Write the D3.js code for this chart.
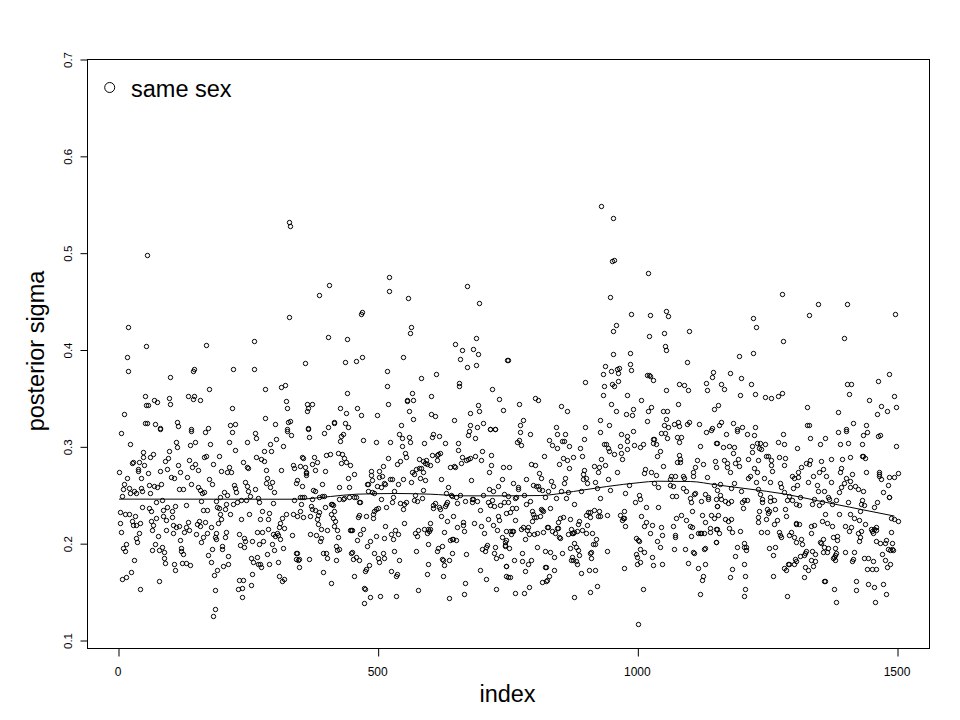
<!DOCTYPE html>
<html>
<head>
<meta charset="utf-8">
<script src="https://cdnjs.cloudflare.com/ajax/libs/d3/7.8.5/d3.min.js"></script>
<style>
html,body{margin:0;padding:0;background:#fff}
svg{display:block}
text{font-family:"Liberation Sans",Arial,sans-serif;fill:#000}
</style>
</head>
<body>
<svg id="chart" width="960" height="720"></svg>
<script>
const xTicks=[0,500,1000,1500];
const yTicks=[0.1,0.2,0.3,0.4,0.5,0.6,0.7];
const xTitle="index";
const yTitle="posterior sigma";
const legendLabel="same sex";
const trendIndex=[1,344,408,459,536,600,665,748,812,876,940,1004,1037,1101,1152,1216,1280,1344,1408,1494];
const trendSigma=[.246,.2459,.2487,.2511,.2518,.2511,.2494,.2494,.2497,.2539,.259,.2631,.2645,.2642,.2607,.2563,.2515,.2446,.2377,.2285];
const peaks=[[329,.532],[332,.528]];
const lowerA=[[6,.314],[23,.302],[48,.294],[48,.289],[62,.289],[68,.292],[28,.284],[27,.283],[41,.284],[50,.281],[39,.277],[39,.275],[2,.273],[58,.272],[18,.267],[45,.267],[12,.261],[10,.256],[21,.257],[8,.249],[23,.252],[31,.254],[35,.252],[45,.257],[46,.254],[60,.26],[62,.252],[70,.259],[75,.258],[83,.261],[73,.243],[85,.245],[81,.275],[95,.277],[91,.285],[96,.288],[98,.295],[112,.304],[114,.299],[139,.301],[148,.304],[177,.302],[141,.316],[168,.315],[81,.318],[116,.281],[120,.273],[102,.268],[108,.267],[133,.268],[141,.261],[118,.256],[125,.256],[137,.286],[143,.279],[148,.282],[154,.276],[166,.289],[170,.29],[183,.282],[195,.29],[214,.304],[225,.296],[248,.304],[220,.315],[264,.314],[266,.309],[304,.308],[293,.302],[281,.295],[295,.295],[318,.3],[325,.316],[333,.312],[266,.289],[275,.287],[281,.285],[241,.284],[248,.279],[250,.278],[198,.275],[210,.274],[214,.279],[218,.274],[285,.276],[314,.276],[337,.281],[339,.278],[175,.266],[181,.261],[154,.258],[158,.255],[162,.252],[166,.253],[204,.253],[210,.25],[197,.248],[223,.26],[225,.257],[227,.253],[245,.263],[248,.259],[250,.254],[254,.249],[264,.256],[285,.262],[287,.267],[297,.263],[293,.258],[300,.253],[343,.262],[270,.247],[272,.242],[298,.241],[339,.245],[160,.244],[189,.244],[237,.245],[247,.245],[229,.243],[222,.24],[208,.24],[131,.239],[110,.238],[95,.237],[87,.234],[104,.233],[104,.227],[87,.228],[93,.224],[73,.226],[60,.236],[64,.233],[46,.237],[4,.232],[14,.23],[21,.23],[33,.228],[27,.223],[29,.219],[35,.219],[43,.221],[64,.223],[68,.219],[66,.214],[4,.221],[6,.212],[41,.21],[35,.205],[37,.201],[16,.199],[10,.195],[14,.192],[77,.207],[71,.199],[66,.193],[79,.193],[85,.196],[89,.191],[89,.185],[91,.18],[31,.183],[25,.17],[16,.165],[8,.163],[79,.161],[43,.153],[108,.179],[110,.172],[120,.203],[122,.195],[122,.192],[125,.189],[123,.18],[131,.18],[139,.177],[106,.219],[112,.217],[118,.218],[93,.214],[106,.211],[127,.212],[131,.217],[135,.222],[137,.214],[152,.22],[158,.218],[156,.223],[168,.222],[179,.217],[150,.209],[172,.21],[164,.206],[160,.201],[187,.206],[189,.211],[189,.204],[181,.194],[173,.188],[179,.181],[200,.197],[200,.194],[212,.187],[212,.179],[202,.176],[191,.172],[185,.167],[187,.152],[187,.132],[183,.125],[164,.234],[171,.234],[191,.237],[195,.236],[206,.235],[216,.23],[197,.23],[198,.225],[193,.221],[208,.212],[206,.206],[252,.23],[237,.225],[277,.233],[291,.231],[273,.225],[289,.225],[316,.226],[312,.221],[324,.23],[337,.23],[345,.228],[310,.217],[320,.216],[289,.215],[268,.212],[277,.212],[299,.209],[307,.211],[308,.208],[302,.207],[312,.204],[335,.208],[233,.209],[243,.205],[245,.202],[258,.202],[272,.199],[279,.202],[297,.199],[300,.193],[318,.195],[235,.198],[243,.196],[287,.189],[256,.185],[268,.186],[260,.181],[270,.179],[274,.179],[275,.175],[291,.179],[308,.181],[343,.19],[343,.184],[258,.168],[310,.166],[316,.161],[320,.163],[233,.162],[241,.162],[231,.153],[239,.154],[256,.157],[239,.144]];
const lowerB=[[366,.318],[397,.314],[368,.31],[433,.313],[429,.311],[427,.306],[472,.307],[497,.304],[524,.304],[541,.313],[547,.309],[560,.31],[562,.304],[547,.3],[589,.303],[606,.313],[604,.31],[618,.311],[629,.303],[654,.303],[654,.296],[676,.316],[674,.312],[687,.309],[716,.318],[726,.318],[408,.292],[400,.291],[424,.293],[431,.292],[435,.288],[429,.283],[439,.284],[447,.281],[377,.289],[383,.284],[373,.282],[354,.289],[356,.288],[350,.28],[360,.279],[379,.276],[399,.275],[362,.274],[362,.272],[362,.27],[454,.271],[443,.267],[393,.261],[354,.259],[425,.258],[445,.258],[344,.265],[487,.275],[487,.27],[502,.275],[508,.269],[502,.268],[489,.265],[479,.261],[481,.261],[499,.259],[506,.258],[514,.261],[512,.262],[524,.266],[527,.266],[539,.261],[549,.266],[564,.263],[520,.288],[510,.28],[537,.282],[543,.285],[552,.293],[554,.289],[579,.287],[587,.285],[593,.286],[591,.283],[595,.282],[600,.281],[566,.274],[570,.271],[574,.277],[579,.278],[583,.278],[587,.274],[581,.267],[591,.265],[614,.291],[614,.286],[604,.291],[616,.292],[620,.293],[622,.266],[639,.279],[647,.28],[649,.279],[662,.289],[660,.283],[670,.286],[674,.287],[677,.288],[687,.29],[699,.286],[701,.295],[718,.291],[718,.281],[714,.273],[741,.279],[679,.265],[635,.258],[731,.259],[739,.266],[714,.256],[722,.254],[587,.255],[531,.254],[481,.254],[489,.253],[493,.252],[631,.252],[641,.25],[643,.249],[658,.25],[651,.248],[572,.25],[585,.247],[529,.248],[702,.25],[743,.251],[376,.255],[379,.254],[373,.246],[350,.248],[354,.248],[358,.248],[387,.248],[393,.249],[397,.249],[425,.246],[435,.247],[433,.246],[445,.248],[454,.248],[458,.248],[506,.246],[681,.246],[683,.246],[668,.244],[691,.244],[681,.242],[720,.245],[712,.243],[716,.239],[724,.238],[735,.239],[743,.243],[352,.24],[372,.238],[373,.235],[350,.233],[370,.228],[356,.227],[379,.234],[387,.232],[385,.229],[383,.225],[385,.22],[399,.237],[410,.24],[412,.24],[414,.239],[410,.23],[416,.233],[414,.226],[418,.223],[416,.218],[391,.215],[402,.214],[422,.214],[464,.243],[466,.243],[527,.242],[516,.237],[543,.241],[550,.24],[554,.242],[549,.235],[570,.245],[575,.244],[606,.239],[606,.236],[610,.241],[618,.237],[620,.235],[629,.238],[631,.24],[633,.242],[652,.241],[697,.234],[731,.228],[622,.228],[645,.228],[633,.223],[664,.222],[664,.219],[666,.213],[652,.217],[685,.221],[699,.218],[712,.225],[722,.219],[733,.224],[729,.214],[704,.21],[739,.206],[746,.201],[745,.198],[746,.197],[501,.236],[497,.235],[493,.233],[491,.23],[491,.226],[477,.228],[464,.229],[462,.227],[514,.218],[550,.221],[533,.214],[525,.209],[539,.209],[529,.204],[512,.205],[497,.207],[472,.215],[466,.209],[460,.203],[447,.214],[450,.214],[449,.214],[424,.206],[370,.209],[381,.208],[391,.205],[389,.202],[420,.197],[425,.194],[422,.193],[485,.202],[479,.197],[574,.192],[597,.199],[624,.197],[614,.192],[616,.195],[639,.203],[643,.204],[645,.204],[651,.203],[601,.221],[589,.215],[597,.215],[601,.215],[599,.213],[595,.211],[577,.214],[572,.21],[576,.207],[627,.212],[531,.192],[493,.19],[510,.19],[512,.185],[500,.185],[502,.181],[450,.191],[449,.19],[458,.186],[452,.184],[464,.183],[395,.19],[400,.19],[402,.185],[420,.183],[368,.184],[349,.184],[347,.183],[344,.19],[348,.175],[395,.17],[410,.159],[454,.166],[483,.177],[477,.173],[475,.171],[525,.171],[537,.168],[535,.166],[541,.183],[643,.19],[670,.189],[624,.184],[625,.183],[637,.183],[597,.179],[627,.177],[595,.168],[625,.166],[668,.159],[697,.172],[709,.163],[747,.176],[747,.166],[701,.194],[706,.192],[710,.198],[708,.196],[726,.196],[724,.19],[727,.185],[737,.187],[474,.154],[475,.153],[485,.144],[504,.145],[535,.145],[474,.138],[577,.152],[666,.148],[637,.143],[727,.153]];
const lowerC=[[774,.315],[793,.313],[772,.307],[768,.304],[776,.301],[829,.307],[845,.313],[860,.313],[897,.308],[929,.315],[968,.313],[981,.311],[991,.316],[981,.306],[854,.305],[858,.305],[835,.301],[845,.298],[868,.3],[820,.29],[889,.298],[893,.29],[935,.302],[939,.302],[943,.298],[945,.295],[955,.292],[966,.3],[968,.293],[970,.287],[931,.287],[981,.297],[993,.301],[1006,.299],[1010,.302],[1030,.308],[1033,.308],[1031,.303],[1035,.302],[1043,.295],[1045,.314],[1053,.314],[1058,.309],[1076,.31],[1085,.31],[1080,.304],[1120,.3],[1133,.315],[1141,.317],[1151,.303],[1037,.29],[1081,.291],[1083,.287],[1083,.284],[1076,.284],[1114,.286],[1126,.282],[1112,.279],[1149,.285],[1151,.279],[864,.286],[856,.288],[876,.289],[849,.282],[868,.278],[795,.282],[803,.281],[752,.279],[897,.276],[895,.271],[916,.28],[926,.279],[937,.281],[924,.273],[960,.274],[1049,.28],[1014,.277],[1012,.272],[1026,.274],[1035,.27],[1108,.273],[1108,.269],[1135,.268],[810,.272],[814,.267],[785,.266],[760,.262],[770,.258],[770,.256],[799,.26],[804,.259],[808,.259],[810,.256],[816,.255],[833,.264],[837,.259],[860,.267],[858,.262],[895,.266],[901,.267],[903,.262],[918,.263],[943,.266],[983,.26],[1033,.262],[1039,.258],[1062,.266],[1064,.269],[1072,.269],[1062,.26],[1068,.259],[1087,.269],[1089,.267],[1087,.257],[1093,.254],[1147,.26],[828,.254],[853,.254],[866,.253],[891,.254],[922,.257],[947,.255],[976,.252],[1003,.25],[1006,.246],[995,.242],[928,.247],[843,.247],[862,.247],[822,.248],[781,.25],[766,.248],[764,.247],[751,.249],[793,.244],[785,.24],[751,.243],[878,.24],[1110,.251],[1112,.252],[1131,.251],[1137,.248],[1137,.246],[1101,.247],[1103,.242],[1122,.244],[1151,.246],[1066,.249],[1074,.249],[1016,.237],[1039,.237],[1153,.238],[831,.236],[814,.235],[816,.234],[797,.233],[818,.233],[799,.23],[801,.227],[804,.227],[812,.228],[797,.223],[766,.236],[758,.236],[754,.232],[748,.231],[764,.224],[851,.226],[856,.227],[847,.222],[845,.216],[870,.225],[887,.223],[885,.22],[901,.229],[905,.232],[908,.232],[908,.227],[916,.234],[926,.233],[924,.228],[928,.228],[941,.229],[966,.229],[974,.233],[972,.226],[975,.226],[970,.224],[1008,.228],[1016,.222],[1028,.219],[1045,.217],[1068,.218],[1074,.226],[1085,.229],[1093,.224],[1105,.233],[1124,.229],[1141,.229],[1147,.226],[1131,.222],[1101,.218],[1105,.217],[1139,.216],[1139,.212],[1151,.215],[1116,.21],[1120,.211],[1122,.211],[1128,.21],[1072,.208],[1047,.208],[1103,.207],[997,.205],[1072,.206],[1024,.211],[1013,.218],[977,.218],[904,.219],[902,.211],[912,.21],[893,.214],[883,.213],[879,.212],[876,.211],[874,.21],[872,.215],[866,.209],[847,.216],[835,.213],[826,.217],[828,.217],[841,.21],[849,.206],[851,.205],[818,.212],[806,.21],[801,.209],[791,.209],[787,.214],[789,.217],[779,.217],[776,.215],[758,.213],[760,.213],[754,.213],[748,.213],[756,.209],[783,.204],[806,.196],[752,.195],[748,.203],[870,.195],[879,.2],[881,.196],[885,.193],[887,.188],[908,.19],[910,.191],[910,.185],[914,.199],[918,.199],[920,.204],[941,.192],[822,.192],[831,.191],[839,.186],[854,.19],[777,.19],[762,.183],[777,.182],[795,.183],[789,.178],[783,.171],[748,.176],[822,.175],[824,.175],[839,.172],[829,.166],[826,.162],[824,.161],[816,.16],[751,.165],[754,.165],[791,.155],[764,.149],[781,.149],[874,.186],[876,.183],[872,.183],[881,.182],[883,.178],[891,.169],[906,.172],[918,.172],[922,.156],[908,.15],[879,.144],[974,.174],[1001,.203],[1003,.202],[1037,.202],[1043,.196],[1005,.194],[1012,.191],[997,.189],[999,.186],[1005,.181],[999,.178],[1028,.186],[1030,.177],[1047,.178],[1070,.194],[1091,.194],[1107,.191],[1110,.19],[1128,.194],[1130,.195],[1097,.18],[1116,.174],[1130,.179],[1126,.166],[1124,.162],[1120,.148],[1151,.201],[1010,.153],[1001,.117]];
const lowerD=[[1170,.313],[1191,.316],[1212,.313],[1224,.312],[1280,.313],[1332,.309],[1362,.309],[1387,.315],[1401,.316],[1435,.312],[1443,.315],[1464,.311],[1468,.312],[1154,.303],[1164,.299],[1176,.3],[1187,.299],[1185,.293],[1220,.3],[1220,.294],[1230,.303],[1237,.303],[1245,.302],[1235,.298],[1239,.297],[1270,.304],[1283,.302],[1308,.298],[1351,.302],[1391,.302],[1405,.303],[1433,.302],[1499,.3],[1247,.29],[1251,.29],[1272,.289],[1285,.288],[1214,.287],[1232,.286],[1258,.286],[1258,.281],[1282,.281],[1166,.286],[1172,.283],[1172,.279],[1193,.287],[1189,.283],[1195,.28],[1178,.273],[1224,.278],[1230,.274],[1260,.275],[1410,.289],[1432,.29],[1434,.29],[1439,.288],[1395,.287],[1372,.287],[1353,.285],[1333,.286],[1330,.282],[1324,.283],[1316,.279],[1357,.277],[1349,.273],[1339,.269],[1310,.273],[1310,.268],[1297,.269],[1301,.267],[1393,.278],[1391,.274],[1414,.271],[1441,.274],[1466,.273],[1466,.271],[1466,.269],[1501,.272],[1495,.268],[1484,.268],[1470,.266],[1482,.26],[1401,.267],[1397,.262],[1409,.264],[1393,.258],[1409,.258],[1420,.259],[1424,.256],[1435,.254],[1474,.253],[1389,.253],[1364,.269],[1372,.263],[1345,.26],[1328,.263],[1308,.26],[1299,.257],[1274,.262],[1276,.258],[1283,.253],[1256,.263],[1243,.267],[1228,.263],[1216,.269],[1214,.267],[1187,.262],[1160,.261],[1180,.257],[1199,.254],[1232,.256],[1237,.251],[1154,.255],[1347,.254],[1360,.254],[1293,.249],[1314,.248],[1368,.248],[1370,.246],[1484,.248],[1485,.248],[1160,.25],[1162,.246],[1168,.244],[1180,.244],[1174,.241],[1205,.245],[1212,.245],[1201,.242],[1203,.236],[1241,.246],[1241,.243],[1255,.248],[1255,.244],[1264,.245],[1289,.245],[1297,.245],[1341,.246],[1383,.245],[1432,.245],[1305,.24],[1312,.239],[1337,.24],[1349,.239],[1355,.242],[1374,.24],[1405,.242],[1430,.24],[1437,.239],[1462,.242],[1455,.237],[1428,.233],[1154,.238],[1285,.235],[1266,.235],[1249,.235],[1253,.233],[1235,.233],[1251,.231],[1287,.228],[1156,.229],[1168,.225],[1174,.223],[1181,.225],[1268,.224],[1233,.227],[1233,.222],[1247,.225],[1264,.22],[1362,.23],[1389,.23],[1410,.23],[1418,.226],[1426,.224],[1355,.223],[1366,.221],[1374,.218],[1399,.218],[1412,.217],[1407,.213],[1439,.22],[1430,.213],[1424,.21],[1428,.206],[1426,.202],[1334,.218],[1341,.219],[1306,.221],[1305,.22],[1312,.22],[1335,.21],[1295,.212],[1293,.208],[1301,.206],[1305,.201],[1316,.204],[1318,.199],[1272,.212],[1274,.208],[1276,.206],[1239,.212],[1249,.212],[1197,.213],[1183,.212],[1176,.216],[1154,.215],[1158,.21],[1152,.201],[1206,.2],[1205,.196],[1210,.196],[1210,.193],[1191,.196],[1253,.195],[1266,.196],[1262,.188],[1189,.187],[1205,.179],[1183,.173],[1179,.165],[1208,.166],[1208,.153],[1206,.145],[1262,.166],[1289,.145],[1357,.204],[1351,.201],[1353,.2],[1360,.196],[1368,.195],[1380,.195],[1358,.191],[1366,.191],[1383,.19],[1380,.188],[1378,.186],[1376,.185],[1380,.183],[1399,.191],[1418,.191],[1337,.192],[1343,.189],[1324,.192],[1322,.19],[1320,.188],[1314,.187],[1335,.183],[1343,.182],[1339,.176],[1376,.206],[1385,.207],[1385,.203],[1416,.184],[1414,.182],[1437,.185],[1445,.185],[1453,.182],[1472,.189],[1476,.183],[1487,.179],[1480,.175],[1443,.173],[1451,.173],[1459,.173],[1305,.182],[1303,.184],[1301,.179],[1293,.179],[1291,.178],[1282,.174],[1287,.172],[1322,.175],[1328,.172],[1320,.165],[1359,.161],[1362,.161],[1378,.153],[1422,.161],[1422,.152],[1445,.158],[1455,.155],[1474,.158],[1478,.148],[1382,.139],[1457,.139],[1449,.215],[1451,.213],[1453,.211],[1459,.217],[1460,.214],[1455,.215],[1489,.212],[1460,.202],[1468,.2],[1478,.203],[1476,.2],[1491,.2],[1482,.194],[1487,.193],[1491,.194],[1493,.193],[1489,.226],[1495,.225],[1501,.223]];
const upperA=[[56,.498],[329,.434],[20,.423],[54,.404],[170,.405],[262,.409],[18,.392],[20,.378],[146,.38],[145,.378],[222,.38],[262,.38],[100,.372],[175,.359],[283,.359],[314,.361],[322,.363],[52,.352],[70,.348],[75,.346],[98,.35],[100,.344],[135,.352],[146,.352],[145,.349],[158,.348],[323,.347],[54,.343],[58,.343],[220,.34],[325,.34],[12,.333],[52,.324],[56,.324],[71,.323],[81,.319],[114,.325],[116,.321],[141,.318],[174,.319],[216,.322],[225,.323],[283,.329],[302,.323],[327,.325],[331,.326],[325,.318]];
const upperB=[[406,.467],[387,.456],[522,.475],[522,.46],[558,.453],[672,.466],[695,.448],[470,.439],[468,.437],[564,.423],[562,.417],[404,.413],[441,.411],[689,.412],[649,.406],[662,.399],[683,.4],[693,.395],[658,.39],[360,.386],[437,.387],[458,.388],[470,.392],[549,.392],[672,.382],[689,.384],[518,.378],[583,.371],[612,.375],[749,.389],[518,.362],[656,.365],[656,.362],[441,.355],[566,.355],[602,.352],[720,.359],[733,.349],[556,.348],[556,.347],[568,.348],[364,.344],[374,.344],[366,.34],[364,.337],[427,.34],[460,.34],[520,.344],[693,.343],[741,.338],[439,.334],[468,.332],[498,.332],[560,.337],[602,.333],[610,.331],[677,.334],[695,.336],[647,.327],[568,.328],[416,.325],[415,.324],[437,.324],[443,.32],[545,.322],[404,.32],[366,.319],[677,.322],[702,.324],[691,.32],[716,.318],[726,.318]];
const upperC=[[931,.548],[953,.536],[951,.491],[956,.492],[1020,.479],[947,.454],[987,.437],[1024,.436],[1056,.44],[1060,.435],[958,.425],[953,.419],[1022,.414],[1051,.417],[1099,.419],[1053,.404],[1055,.399],[954,.395],[985,.396],[751,.389],[1095,.387],[985,.385],[937,.383],[960,.38],[964,.381],[949,.378],[962,.376],[987,.379],[933,.375],[1018,.374],[1022,.374],[1024,.373],[1145,.377],[1143,.372],[1031,.368],[899,.366],[962,.367],[951,.364],[956,.362],[935,.362],[1080,.364],[1089,.363],[1133,.365],[1056,.358],[1097,.358],[1135,.358],[933,.353],[980,.353],[803,.35],[808,.348],[1008,.348],[772,.344],[949,.344],[1078,.344],[853,.342],[1026,.341],[1147,.339],[864,.336],[958,.336],[991,.339],[1020,.336],[1049,.337],[1058,.336],[978,.333],[989,.332],[929,.327],[779,.327],[774,.322],[1055,.328],[1018,.326],[945,.322],[1051,.322],[1060,.32],[1070,.323],[1078,.325],[1081,.321],[1095,.323],[1099,.325],[1118,.323],[843,.32],[899,.32],[1143,.319]];
const upperD=[[1278,.457],[1347,.447],[1403,.447],[1330,.436],[1497,.437],[1222,.433],[1228,.423],[1397,.412],[1280,.409],[1222,.396],[1195,.393],[1178,.376],[1485,.375],[1199,.371],[1464,.367],[1162,.364],[1218,.364],[1403,.364],[1412,.364],[1166,.359],[1197,.353],[1226,.354],[1245,.351],[1257,.35],[1270,.352],[1278,.355],[1407,.354],[1495,.352],[1447,.348],[1156,.343],[1326,.341],[1470,.342],[1499,.341],[1387,.335],[1480,.336],[1462,.333],[1162,.325],[1185,.324],[1158,.322],[1201,.32],[1226,.32],[1326,.322],[1330,.322],[1416,.324],[1441,.322],[1191,.318],[1401,.318]];
const samples=[...peaks,...lowerA,...lowerB,...lowerC,...lowerD,...upperA,...upperB,...upperC,...upperD];

const svg=d3.select("#chart");
svg.append("rect").attr("width",960).attr("height",720).attr("fill","#fff");
const x=d3.scaleLinear().domain([0,1500]).range([118.5,897.5]);
const y=d3.scaleLinear().domain([0.1,0.7]).range([640.5,59.5]);
svg.append("g").selectAll("circle").data(samples).join("circle")
  .attr("cx",d=>Math.floor(x(d[0]))+0.5).attr("cy",d=>Math.floor(y(d[1]))+0.5).attr("r",2.2)
  .attr("fill","none").attr("stroke","#000").attr("stroke-width",1);
const line=d3.line().x(d=>x(d[0])).y(d=>y(d[1])).curve(d3.curveMonotoneX);
svg.append("path").datum(trendIndex.map((v,i)=>[v,trendSigma[i]]))
  .attr("d",line).attr("fill","none").attr("stroke","#000").attr("stroke-width",1);
svg.append("rect").attr("x",87.5).attr("y",59.5).attr("width",842).attr("height",589)
  .attr("fill","none").attr("stroke","#000").attr("stroke-width",1);
const gx=svg.append("g").attr("transform","translate(0,648.5)")
  .call(d3.axisBottom(x).tickValues(xTicks).tickSize(8).tickSizeOuter(0).tickFormat(d3.format("d")));
gx.select(".domain").remove();
gx.selectAll("line").attr("stroke","#000");
gx.selectAll("text").attr("y",18.5).attr("dy","0.71em").attr("font-size",12).attr("fill","#000").attr("dx",-1);
const gy=svg.append("g").attr("transform","translate(87.5,0)")
  .call(d3.axisLeft(y).tickValues(yTicks).tickSize(7).tickSizeOuter(0).tickFormat(d3.format(".1f")));
gy.select(".domain").remove();
gy.selectAll("line").attr("stroke","#000");
gy.selectAll("text").attr("x",null).attr("dy",null).attr("font-size",11.5).attr("fill","#000")
  .attr("text-anchor","middle").attr("transform","translate(-16,0) rotate(-90)");
svg.append("text").attr("x",507.5).attr("y",702).attr("text-anchor","middle").attr("font-size",23.5).text(xTitle);
svg.append("text").attr("transform","translate(44,351) rotate(-90)").attr("text-anchor","middle").attr("font-size",23.5).text(yTitle);
svg.append("circle").attr("cx",109.7).attr("cy",87.5).attr("r",5).attr("fill","none").attr("stroke","#000").attr("stroke-width",1);
svg.append("text").attr("x",131).attr("y",96.5).attr("font-size",23.5).text(legendLabel);
</script>
</body>
</html>
